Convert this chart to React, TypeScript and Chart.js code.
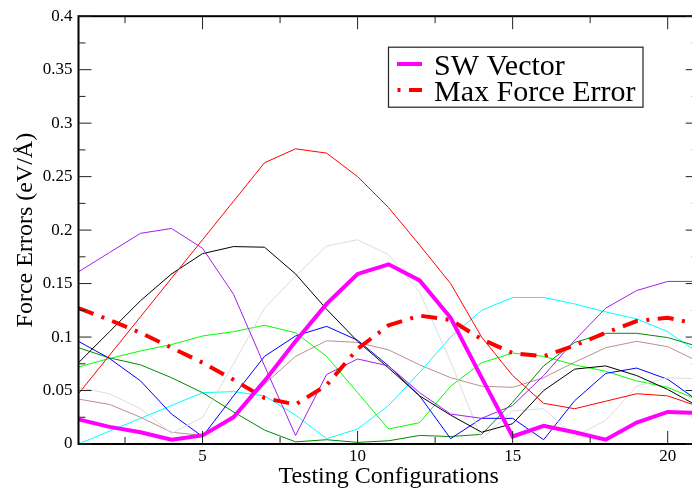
import React, { useEffect, useRef } from "react";
import { Chart, registerables } from "chart.js";

Chart.register(...registerables);

// ---------- data ----------
const configs = [1, 2, 3, 4, 5, 6, 7, 8, 9, 10, 11, 12, 13, 14, 15, 16, 17, 18, 19, 20, 21];

const swVector = [0.023, 0.016, 0.011, 0.004, 0.008, 0.025, 0.059, 0.096, 0.131, 0.159, 0.168, 0.153, 0.118, 0.062, 0.007, 0.017, 0.011, 0.004, 0.020, 0.030, 0.029];
const maxForceError = [0.127, 0.116, 0.104, 0.090, 0.076, 0.060, 0.043, 0.037, 0.055, 0.089, 0.111, 0.120, 0.116, 0.098, 0.085, 0.082, 0.092, 0.104, 0.115, 0.118, 0.112];

const redSeries = [0.047, 0.083, 0.119, 0.155, 0.191, 0.227, 0.263, 0.276, 0.272, 0.250, 0.221, 0.186, 0.150, 0.100, 0.064, 0.038, 0.033, 0.040, 0.047, 0.045, 0.035];
const purpleSeries = [0.161, 0.179, 0.197, 0.2015, 0.183, 0.140, 0.073, 0.008, 0.065, 0.0795, 0.073, 0.048, 0.028, 0.024, 0.036, 0.064, 0.097, 0.127, 0.1435, 0.152, 0.152];
const blackSeries = [0.076, 0.105, 0.134, 0.159, 0.178, 0.1846, 0.184, 0.159, 0.126, 0.096, 0.071, 0.045, 0.027, 0.011, 0.019, 0.050, 0.070, 0.073, 0.064, 0.051, 0.035];
const graySeries = [0.053, 0.047, 0.033, 0.010, 0.025, 0.075, 0.127, 0.157, 0.185, 0.191, 0.177, 0.142, 0.077, 0.005, 0.031, 0.033, 0.007, 0.022, 0.054, 0.062, 0.061];
const blueSeries = [0.096, 0.080, 0.059, 0.028, 0.007, 0.045, 0.082, 0.101, 0.110, 0.097, 0.073, 0.045, 0.005, 0.024, 0.024, 0.004, 0.0405, 0.066, 0.071, 0.0605, 0.040];
const limeSeries = [0.072, 0.080, 0.087, 0.093, 0.101, 0.105, 0.111, 0.104, 0.082, 0.048, 0.014, 0.020, 0.054, 0.076, 0.085, 0.082, 0.074, 0.068, 0.059, 0.053, 0.041];
const darkGreenSeries = [0.090, 0.0805, 0.074, 0.062, 0.048, 0.030, 0.013, 0.002, 0.004, 0.0015, 0.003, 0.008, 0.007, 0.009, 0.039, 0.073, 0.095, 0.1035, 0.1035, 0.0995, 0.091];
const cyanSeries = [0.000, 0.012, 0.024, 0.036, 0.048, 0.049, 0.045, 0.027, 0.005, 0.014, 0.036, 0.067, 0.100, 0.125, 0.137, 0.137, 0.131, 0.1235, 0.117, 0.105, 0.085];
const brownSeries = [0.042, 0.037, 0.025, 0.011, 0.008, 0.027, 0.056, 0.082, 0.0965, 0.095, 0.088, 0.074, 0.062, 0.054, 0.053, 0.062, 0.0765, 0.090, 0.096, 0.091, 0.077];

const xMajorTicks = [5, 10, 15, 20];
const xMinorTicks = [2.5, 7.5, 12.5, 17.5];
const yMajorTicks = [0, 0.05, 0.1, 0.15, 0.2, 0.25, 0.3, 0.35, 0.4];
const yTickLabels = ["0", "0.05", "0.1", "0.15", "0.2", "0.25", "0.3", "0.35", "0.4"];
const yMinorTicks = [0.025, 0.075, 0.125, 0.175, 0.225, 0.275, 0.325, 0.375];

const FONT = "'Liberation Serif', 'Times New Roman', serif";

const pts = (arr: number[]) => configs.map((x, i) => ({ x, y: arr[i] }));

const frameLegendPlugin = {
  id: "frameLegend",
  afterDatasetsDraw(chart: any) {
    const { ctx, chartArea: a, scales } = chart;
    const xs = scales.x;
    const ys = scales.y;
    ctx.save();
    // frame
    ctx.strokeStyle = "#000";
    ctx.lineWidth = 2;
    ctx.setLineDash([]);
    ctx.strokeRect(a.left, a.top, a.right - a.left, a.bottom - a.top);
    // inward ticks
    ctx.lineWidth = 1;
    ctx.strokeStyle = "#222";
    const seg = (x1: number, y1: number, x2: number, y2: number) => {
      ctx.beginPath();
      ctx.moveTo(x1, y1);
      ctx.lineTo(x2, y2);
      ctx.stroke();
    };
    const MAJ = 13;
    const MIN = 7;
    xMajorTicks.forEach((v) => {
      const p = xs.getPixelForValue(v);
      seg(p, a.bottom, p, a.bottom - MAJ);
      seg(p, a.top, p, a.top + MAJ);
    });
    xMinorTicks.forEach((v) => {
      const p = xs.getPixelForValue(v);
      seg(p, a.bottom, p, a.bottom - MIN);
      seg(p, a.top, p, a.top + MIN);
    });
    yMajorTicks.forEach((v) => {
      const p = ys.getPixelForValue(v);
      seg(a.left, p, a.left + MAJ, p);
      seg(a.right, p, a.right - MAJ, p);
    });
    yMinorTicks.forEach((v) => {
      const p = ys.getPixelForValue(v);
      seg(a.left, p, a.left + MIN, p);
      seg(a.right, p, a.right - MIN, p);
    });

    // legend box
    const bx = a.left + 310;
    const by = a.top + 31;
    const bw = 254.5;
    const bh = 60;
    ctx.fillStyle = "#fff";
    ctx.fillRect(bx, by, bw, bh);
    ctx.strokeStyle = "#222";
    ctx.lineWidth = 1.2;
    ctx.strokeRect(bx, by, bw, bh);
    const entries = chart.data.datasets.slice(0, 2);
    ctx.font = `30px ${FONT}`;
    ctx.textBaseline = "alphabetic";
    ctx.textAlign = "left";
    entries.forEach((ds: any, i: number) => {
      const base = by + 27.3 + i * 26;
      const ly = base - 10.5;
      ctx.save();
      ctx.strokeStyle = ds.borderColor;
      ctx.lineWidth = ds.borderWidth;
      ctx.lineCap = "butt";
      if (ds.borderDash) {
        ctx.setLineDash(ds.borderDash);
        ctx.lineDashOffset = 24;
      }
      ctx.beginPath();
      ctx.moveTo(bx + 8.5, ly);
      ctx.lineTo(bx + 33.5, ly);
      ctx.stroke();
      ctx.restore();
      ctx.fillStyle = "#000";
      ctx.fillText(ds.label, bx + 45.5, base);
    });
    ctx.restore();
  },
};

export default function App() {
  const ref = useRef<HTMLCanvasElement | null>(null);

  useEffect(() => {
    if (!ref.current) return;
    const thin = (label: string, arr: number[], color: string) => ({
      label,
      data: pts(arr),
      borderColor: color,
      backgroundColor: color,
      borderWidth: 1,
      pointRadius: 0,
      tension: 0,
      fill: false,
    });
    const chart = new Chart(ref.current, {
      type: "line",
      data: {
        datasets: [
          {
            label: "SW Vector",
            data: pts(swVector),
            borderColor: "#ff00ff",
            backgroundColor: "#ff00ff",
            borderWidth: 4,
            pointRadius: 0,
            tension: 0,
            fill: false,
          },
          {
            label: "Max Force Error",
            data: pts(maxForceError),
            borderColor: "#ff0000",
            backgroundColor: "#ff0000",
            borderWidth: 4,
            borderDash: [16, 8.5, 3, 8.5],
            pointRadius: 0,
            tension: 0,
            fill: false,
          },
          thin("Set 1", redSeries, "#ff0000"),
          thin("Set 2", purpleSeries, "#a020f0"),
          thin("Set 3", blackSeries, "#000000"),
          thin("Set 4", graySeries, "#dcdcdc"),
          thin("Set 5", blueSeries, "#0000ff"),
          thin("Set 6", limeSeries, "#00ff00"),
          thin("Set 7", darkGreenSeries, "#008b00"),
          thin("Set 8", cyanSeries, "#00ffff"),
          thin("Set 9", brownSeries, "#bc8f8f"),
        ],
      },
      options: {
        responsive: false,
        maintainAspectRatio: false,
        devicePixelRatio: 1,
        animation: false,
        layout: { padding: { top: 10, right: 11.3, bottom: 0, left: 0 } },
        plugins: {
          legend: { display: false },
          tooltip: { enabled: false },
        },
        scales: {
          x: {
            type: "linear",
            min: 1,
            max: 21,
            afterBuildTicks: (s: any) => {
              s.ticks = xMajorTicks.map((v) => ({ value: v }));
            },
            afterFit: (s: any) => {
              s.height = 51;
            },
            grid: { display: false, drawTicks: false },
            border: { display: false },
            ticks: {
              autoSkip: false,
              maxRotation: 0,
              padding: 2.5,
              color: "#000",
              font: { family: FONT, size: 17 },
              callback: (v: any) => String(v),
            },
            title: {
              display: true,
              text: "Testing Configurations",
              color: "#000",
              font: { family: FONT, size: 24 },
              padding: { top: 0, bottom: 3.6 },
            },
          },
          y: {
            type: "linear",
            min: 0,
            max: 0.4,
            afterBuildTicks: (s: any) => {
              s.ticks = yMajorTicks.map((v) => ({ value: v }));
            },
            afterFit: (s: any) => {
              s.width = 78.5;
            },
            grid: { display: false, drawTicks: false },
            border: { display: false },
            ticks: {
              autoSkip: false,
              padding: 6,
              color: "#000",
              font: { family: FONT, size: 17 },
              callback: (_v: any, i: number) => yTickLabels[i],
            },
            title: {
              display: true,
              text: "Force Errors (eV/Å)",
              color: "#000",
              font: { family: FONT, size: 24 },
              padding: { top: 11.1, bottom: 0 },
            },
          },
        },
      },
      plugins: [frameLegendPlugin],
    } as any);
    return () => chart.destroy();
  }, []);

  return (
    <div
      style={{
        position: "fixed",
        left: 0,
        top: 0,
        width: 692,
        height: 495,
        overflow: "hidden",
        background: "#fff",
      }}
    >
      <canvas ref={ref} width={710} height={495} style={{ display: "block", width: 710, height: 495 }} />
    </div>
  );
}
